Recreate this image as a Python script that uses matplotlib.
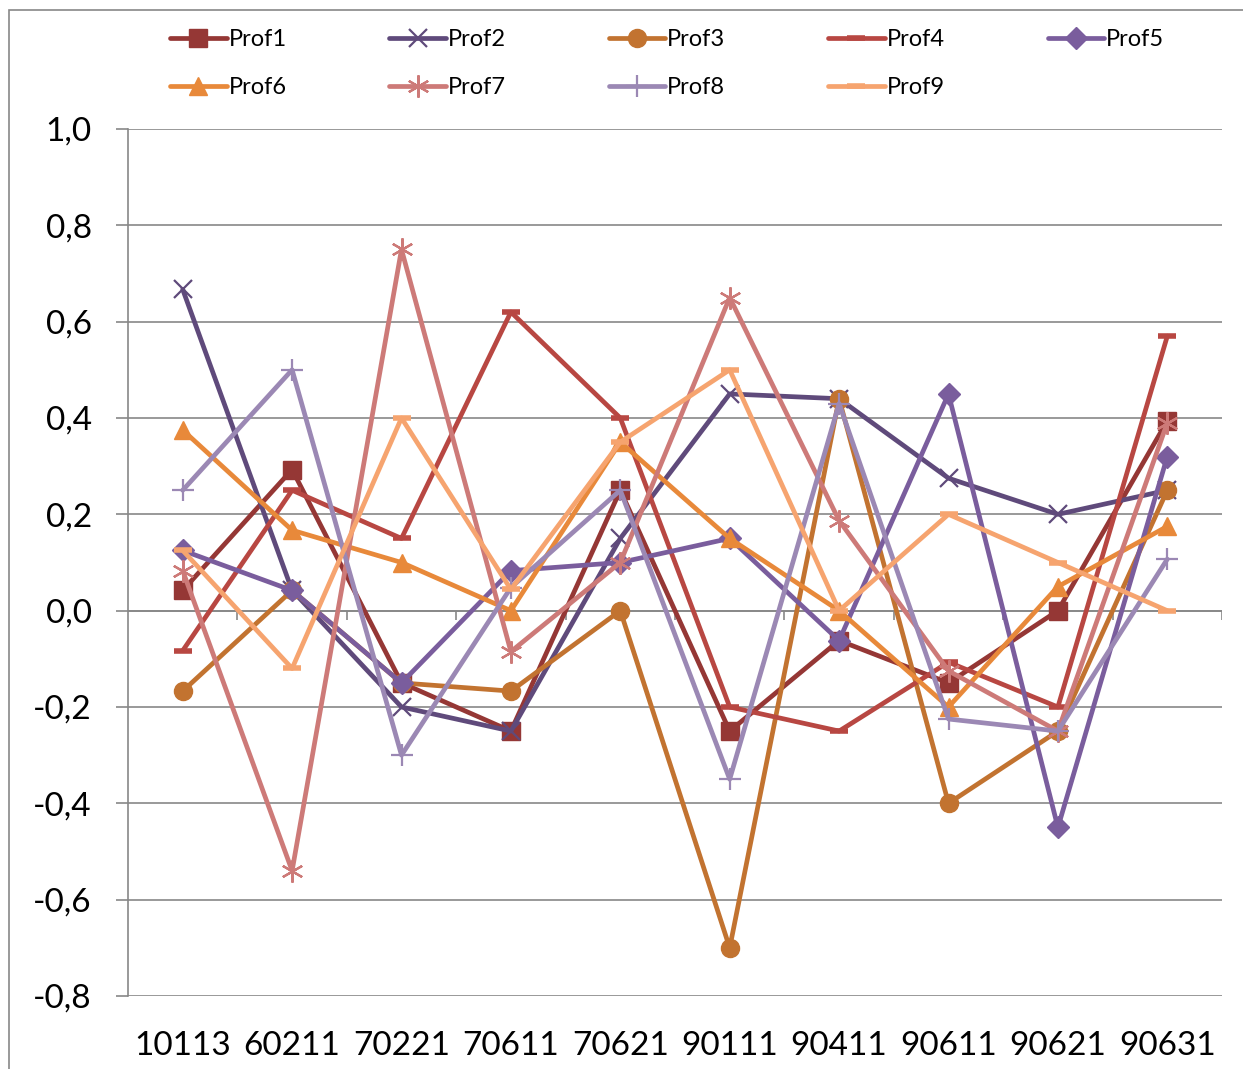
import numpy as np
import matplotlib
matplotlib.use('Agg')
import matplotlib.pyplot as plt
from matplotlib.patches import Rectangle

plt.rcParams['font.family'] = ['Lato', 'DejaVu Sans']

# categories and series
cats = ['10113', '60211', '70221', '70611', '70621', '90111', '90411', '90611', '90621', '90631']
prof1 = [0.042, 0.293, -0.15, -0.25, 0.25, -0.25, -0.062, -0.15, 0.0, 0.394]
prof2 = [0.667, 0.042, -0.2, -0.25, 0.15, 0.45, 0.44, 0.275, 0.2, 0.25]
prof3 = [-0.167, 0.042, -0.15, -0.167, 0.0, -0.7, 0.44, -0.4, -0.25, 0.25]
prof4 = [-0.083, 0.25, 0.15, 0.62, 0.4, -0.2, -0.25, -0.107, -0.2, 0.57]
prof5 = [0.125, 0.042, -0.15, 0.083, 0.1, 0.15, -0.062, 0.45, -0.45, 0.32]
prof6 = [0.375, 0.167, 0.1, 0.0, 0.35, 0.15, 0.0, -0.2, 0.05, 0.175]
prof7 = [0.083, -0.54, 0.75, -0.085, 0.1, 0.65, 0.187, -0.125, -0.25, 0.39]
prof8 = [0.25, 0.5, -0.3, 0.048, 0.25, -0.35, 0.43, -0.225, -0.25, 0.107]
prof9 = [0.125, -0.12, 0.4, 0.044, 0.35, 0.5, 0.0, 0.2, 0.1, 0.0]

names = ['Prof1', 'Prof2', 'Prof3', 'Prof4', 'Prof5', 'Prof6', 'Prof7', 'Prof8', 'Prof9']
series = [prof1, prof2, prof3, prof4, prof5, prof6, prof7, prof8, prof9]
colors = ['#953735', '#5F4A7B', '#C27330', '#B84742', '#7A5D9D',
          '#E8893A', '#CD7A78', '#9B88B4', '#F6A46F']
# marker, size, edge width
styles = [('s', 13, 1), ('x', 13, 1.6), ('o', 13, 1), ('_', 13, 4),
          ('D', 11, 1), ('^', 13, 1), ((6, 2, 0), 16, 1.6), ('+', 16, 1.6), ('_', 13, 4)]

gray = '#878787'

fig = plt.figure(figsize=(12.43, 10.69), dpi=100)
ax = fig.add_axes([128/1243, 73/1069, (1222-128)/1243, (996-129)/1069])

x = np.arange(len(cats))
lines = []
for s, name, c, (m, ms, mew) in zip(series, names, colors, styles):
    ln, = ax.plot(x, s, color=c, lw=3.4, marker=m, markersize=ms, markeredgewidth=mew,
                  markerfacecolor=c, markeredgecolor=c, label=name, solid_capstyle='round')
    lines.append(ln)

ax.set_xlim(-0.5, len(cats) - 0.5)
ax.set_ylim(-0.8, 1.0)
yt = np.round(np.arange(-0.8, 1.01, 0.2), 1)
ax.set_yticks(yt)
ax.set_yticklabels([('%.1f' % (v + 0.0)).replace('-0.0', '0.0').replace('.', ',') for v in yt])
ax.yaxis.grid(True, color=gray, lw=1.2)
ax.set_axisbelow(True)
ax.set_xticks(x)
ax.set_xticklabels(cats)
ax.tick_params(axis='x', length=0, pad=25, labelsize=24)
ax.tick_params(axis='y', length=9, width=1.2, color=gray, pad=17, labelsize=24)

for side in ['top', 'right', 'bottom']:
    ax.spines[side].set_visible(False)
ax.spines['left'].set_color(gray)
ax.spines['left'].set_linewidth(1.2)

# zero line with category separators
ax.axhline(0, color=gray, lw=1.2, zorder=0.5)
bounds = np.arange(-0.5, len(cats), 1.0)
ax.vlines(bounds[1:], -0.02, 0, color=gray, lw=1.2, zorder=0.5)

# legend filled row by row: 5 on top, 4 below
order = [0, 5, 1, 6, 2, 7, 3, 8, 4]
fig.legend([lines[i] for i in order], [names[i] for i in order],
           loc='upper left', bbox_to_anchor=(170/1243, 1 - 29/1069), ncol=5,
           frameon=False, fontsize=17, handlelength=2.4, handletextpad=0.08,
           columnspacing=4.35, labelspacing=1.15, borderpad=0, borderaxespad=0)

fig.patches.append(Rectangle((9/1243, -0.1), 2, 1.1 - 10/1069, transform=fig.transFigure,
                             fill=False, edgecolor=gray, lw=1.2))

fig.savefig('out.png', dpi=100)
